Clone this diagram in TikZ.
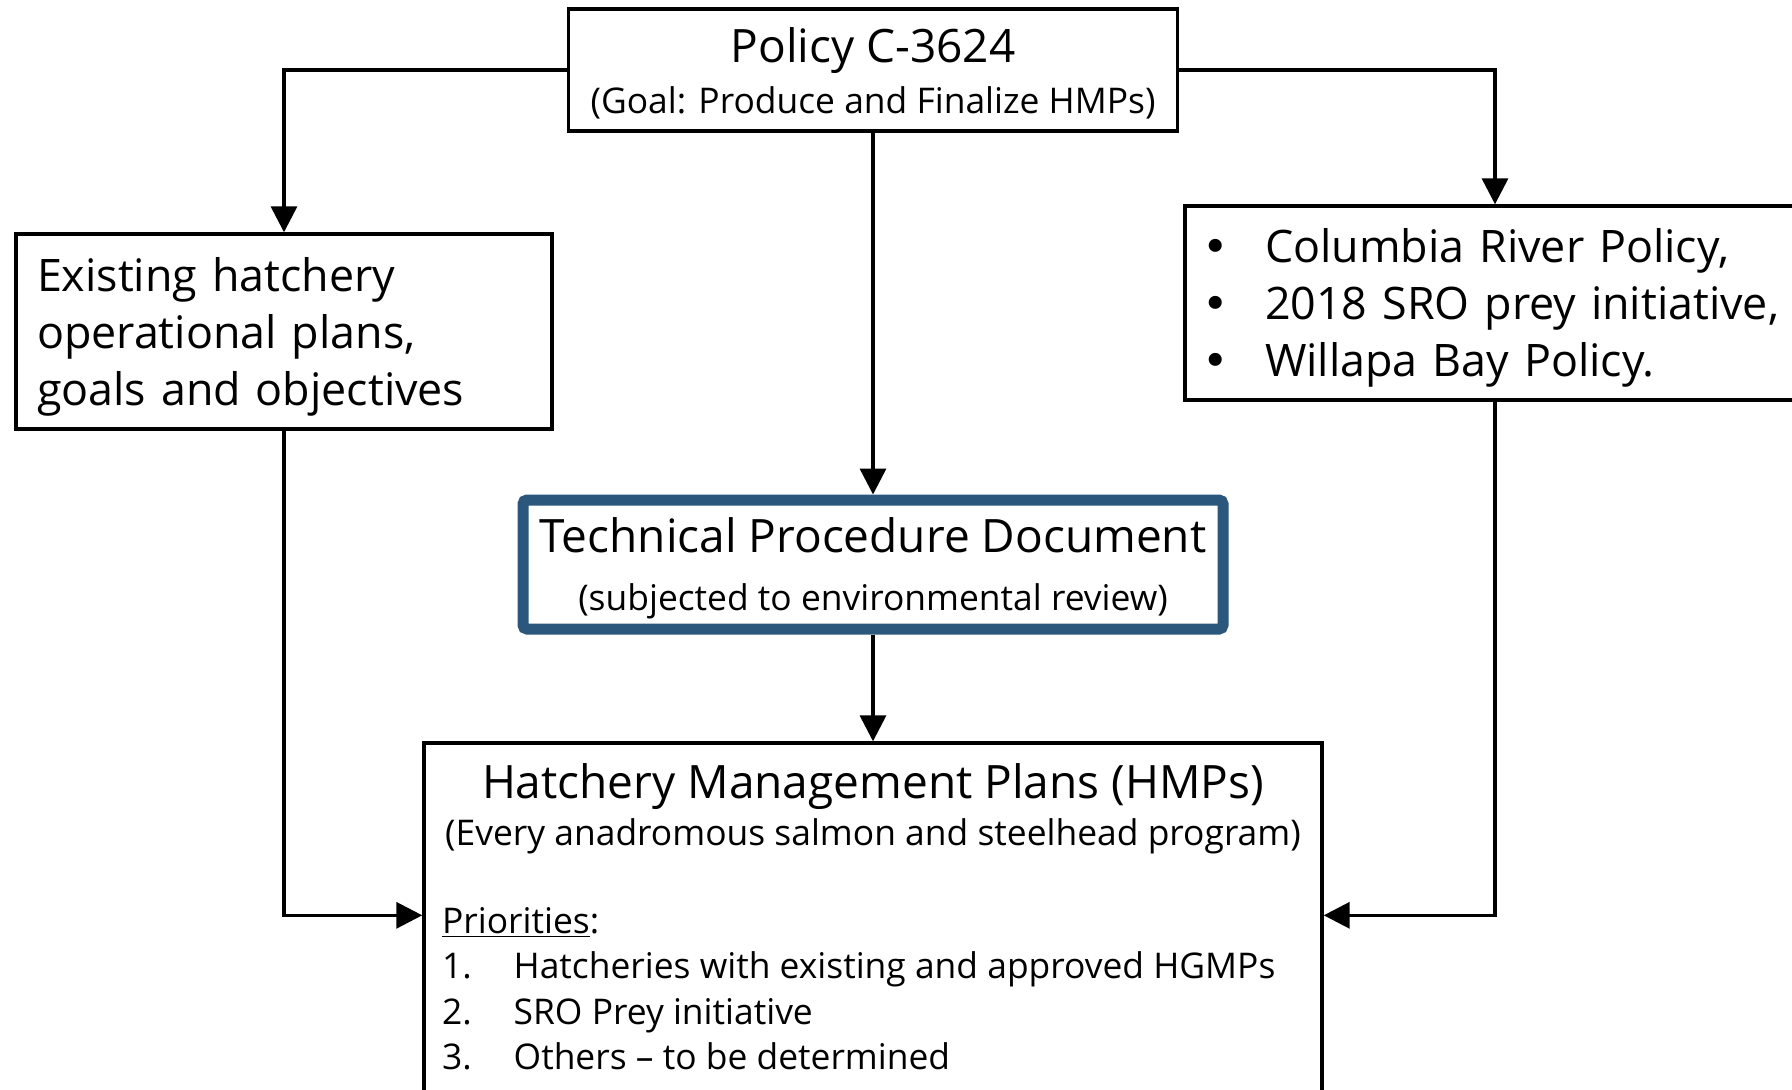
\documentclass[tikz,border=0pt]{standalone}
\usepackage{fontspec}
\setmainfont{Open Sans}
\newfontfamily\symfont{DejaVu Sans}
\usepackage{xcolor}
\usepackage{tikz}
\usetikzlibrary{arrows.meta, positioning}

\definecolor{tpdblue}{RGB}{44,87,125}
\newcommand{\bigtxt}{\fontsize{23}{28.5}\selectfont}
\newcommand{\sidetxt}{\fontsize{22.4}{28.5}\selectfont}
\newcommand{\smalltxt}{\fontsize{17.7}{22.7}\selectfont}
\newcommand{\blt}{\makebox[31.5pt][l]{\symfont •}}

\begin{document}
\begin{tikzpicture}[x=1pt, y=-1pt,
    box/.style={draw, rectangle, line width=1.7pt, inner sep=0pt},
    link/.style={-{Triangle[length=13pt, width=13pt]}, line width=1.7pt}]
    \useasboundingbox (0,0) rectangle (896,544.5);
    \clip (0,0) rectangle (896,544.5);

    % boxes
    \node[box, minimum width=304.5pt, minimum height=61pt, align=center, font=\fontsize{23}{25.5}\selectfont] (policy) at (436.5,35) {\rule{0pt}{21pt}Policy C-3624\\{\smalltxt (Goal: Produce and Finalize HMPs)}};
    \node[box, minimum width=268pt, minimum height=97.5pt, text width=247pt, align=left, font=\sidetxt] (existing) at (142,165.75) {\rule{0pt}{22.5pt}Existing hatchery\\operational plans,\\goals and objectives};
    \node[box, minimum width=310pt, minimum height=97pt, text width=293pt, align=left, font=\sidetxt] (colpol) at (747.5,151.5) {\rule{0pt}{21.5pt}\blt Columbia River Policy,\\\blt 2018 SRO prey initiative,\\\blt Willapa Bay Policy.};
    \node[draw=tpdblue, line width=5.5pt, rounded corners=2pt, inner sep=0pt, minimum width=350pt, minimum height=64.5pt, align=center, font=\fontsize{23}{29}\selectfont] (tpd) at (436.5,282.25) {\rule{0pt}{21.5pt}Technical Procedure Document\\{\smalltxt (subjected to environmental review)}};
    \node[box, minimum width=449pt, minimum height=200pt] (hmp) at (436.5,471.5) {};

    % text in the HMP box
    \node[font=\bigtxt, inner sep=0pt, anchor=mid] (hmptitle) at ([yshift=-26pt]hmp.north) {Hatchery Management Plans (HMPs)};
    \node[font=\smalltxt, inner sep=0pt, anchor=mid] (hmpsub) at ([yshift=-49.5pt]hmp.north) {(Every anadromous salmon and steelhead program)};
    \node[font=\smalltxt, inner sep=0pt, anchor=north west] (hmplist) at ([xshift=9.7pt, yshift=-80pt]hmp.north west) {%
        \begin{tabular}{@{}p{35.8pt}@{}l@{}}
        \multicolumn{2}{@{}l}{\underline{Priorities}:}\\
        1. & Hatcheries with existing and approved HGMPs\\
        2. & SRO Prey initiative\\
        3. & Others -- to be determined
        \end{tabular}};

    % connectors
    \draw[link] (policy.west) -| (existing.north);
    \draw[link] (policy.east) -| (colpol.north);
    \draw[link] (policy.south) -- (tpd.north);
    \draw[link] (tpd.south) -- (hmp.north);
    \draw[link] (existing.south) |- ([yshift=-87pt]hmp.north west);
    \draw[link] (colpol.south) |- ([yshift=-87pt]hmp.north east);
\end{tikzpicture}
\end{document}
